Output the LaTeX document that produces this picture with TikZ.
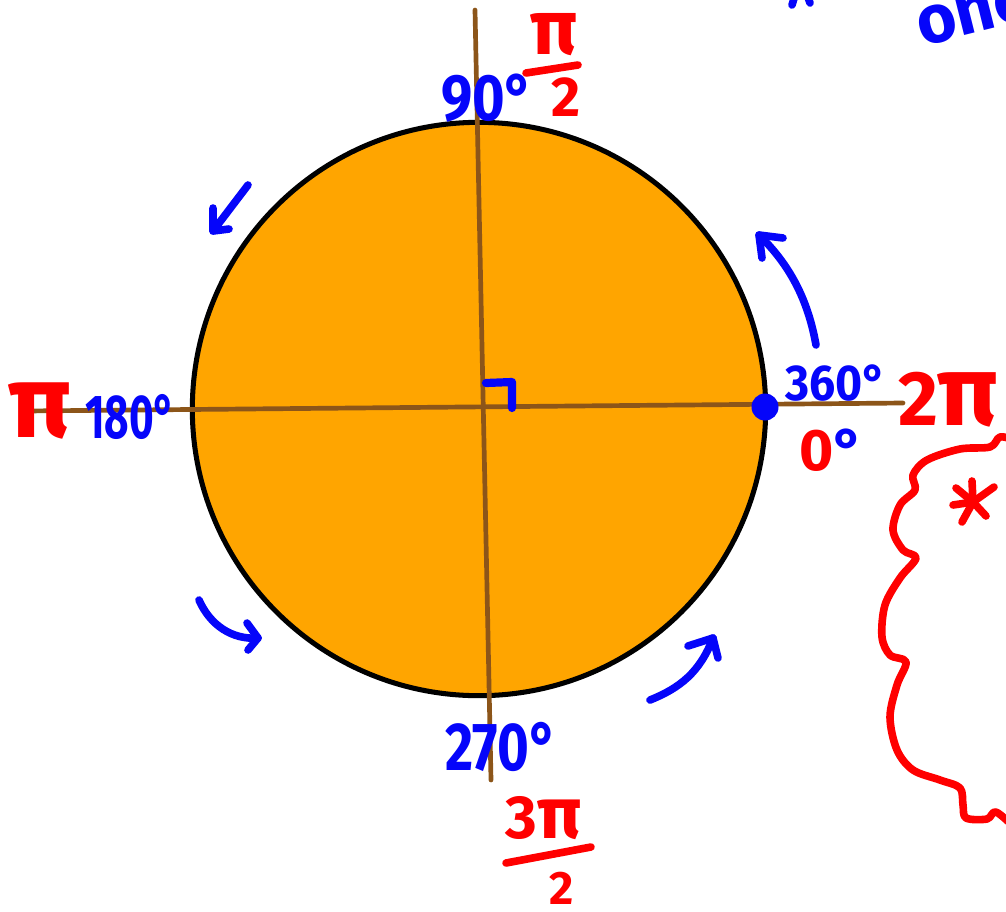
\documentclass[tikz,border=0pt]{standalone}
\usepackage{fontspec}
\usepackage{graphicx}
\setmainfont{Fira Sans}
\definecolor{disc}{RGB}{255,165,0}
\definecolor{axisbrown}{RGB}{140,85,25}
\definecolor{penblue}{RGB}{5,5,250}
\definecolor{penred}{RGB}{255,0,0}
\newcommand\myfs[1]{\fontsize{#1}{#1}\selectfont\bfseries}
\begin{document}
\begin{tikzpicture}[x=0.03cm,y=-0.03cm,line cap=round,line join=round,
  pen/.style={draw=penblue,line width=6.5pt},
  redpen/.style={draw=penred,line width=6.5pt},
  axis/.style={draw=axisbrown,line width=4pt},
  bluelbl/.style={inner sep=0pt,outer sep=0pt,text=penblue},
  redlbl/.style={inner sep=0pt,outer sep=0pt,text=penred}]
\useasboundingbox (0,0) rectangle (1006,911);
\clip (0,0) rectangle (1006,911);
\fill[white] (0,0) rectangle (1006,911);
% disc
\node[circle,fill=disc,draw=black,line width=4.3pt,minimum size=17.2cm,inner sep=0pt] (disk) at (479,409) {};
% axes
\coordinate (vt) at (475,10);
\coordinate (vb) at (491,780);
\coordinate (hl) at (25,411);
\coordinate (hr) at (903,403);
\draw[axis] (vt) -- (vb);
\draw[axis] (hl) -- (hr);
% right angle mark
\coordinate (ra1) at (486,383);
\coordinate (ra2) at (512,382);
\coordinate (ra3) at (512,408);
\draw[pen,line width=7pt] (ra1) -- (ra2) -- (ra3);
% point at 0/360
\node[circle,fill=penblue,minimum size=0.81cm,inner sep=0pt] (pt0) at (765,407) {};
% degree labels
\node[bluelbl,anchor=base west] (d90) at (441,120) {\myfs{56}\scalebox{0.85}[1]{90°}};
\node[bluelbl,anchor=base west] (d180) at (85,438) {\myfs{53}\scalebox{0.68}[1]{180°}};
\node[bluelbl,anchor=base west] (d270) at (445,770) {\myfs{58}\scalebox{0.8}[1]{270°}};
\node[bluelbl,anchor=base west] (d360) at (785,400) {\myfs{43}\scalebox{0.92}[1]{360°}};
\node[inner sep=0pt,anchor=base west] (d0) at (799,470) {\myfs{50}\textcolor{penred}{0}\textcolor{penblue}{°}};
% radian labels
\node[redlbl,anchor=base west] (rpi) at (8,437) {\myfs{88}π};
\node[redlbl,anchor=base west] (r2pi) at (898,425) {\myfs{66}2\fontsize{85}{85}\selectfont π};
\node[redlbl,anchor=base] (rhalfn) at (554,54) {\myfs{66}π};
\coordinate (bar1a) at (526,73);
\coordinate (bar1b) at (578,65);
\draw[redpen] (bar1a) -- (bar1b);
\node[redlbl,anchor=base] (rhalfd) at (566,116) {\myfs{48}2};
\node[redlbl,anchor=base] (r3n) at (544,838) {\myfs{52}3\fontsize{62}{62}\selectfont π};
\coordinate (bar2a) at (506,863);
\coordinate (bar2b) at (591,847);
\draw[redpen] (bar2a) -- (bar2b);
\node[redlbl,anchor=base] (r3d) at (562,904) {\myfs{40}2};
% direction arrows
\coordinate (a1t) at (248,185); \coordinate (a1h) at (213,231);
\coordinate (a1l) at (213,208); \coordinate (a1r) at (229,229);
\draw[pen] (a1t) -- (a1h);
\draw[pen] (a1l) -- (a1h) -- (a1r);
\coordinate (a2t) at (816,345); \coordinate (a2h) at (759,235);
\coordinate (a2l) at (762,258); \coordinate (a2r) at (783,238);
\draw[pen] (a2t) .. controls (808,300) and (790,265) .. (a2h);
\draw[pen] (a2l) -- (a2h) -- (a2r);
\coordinate (a3t) at (199,600); \coordinate (a3h) at (258,638);
\coordinate (a3l) at (247,623); \coordinate (a3r) at (248,650);
\draw[pen] (a3t) .. controls (210,625) and (232,640) .. (a3h);
\draw[pen] (a3l) -- (a3h) -- (a3r);
\coordinate (a4t) at (650,700); \coordinate (a4h) at (713,638);
\coordinate (a4l) at (688,646); \coordinate (a4r) at (718,658);
\draw[pen] (a4t) .. controls (680,688) and (700,672) .. (a4h);
\draw[pen] (a4l) -- (a4h) -- (a4r);
% top right notes (cut off)
\node[bluelbl,anchor=base west,rotate=14] (note) at (922,46) {\myfs{58}onc};
\coordinate (m1a) at (796,-8); \coordinate (m1b) at (792,5);
\coordinate (m2a) at (806,-8); \coordinate (m2b) at (810,3);
\draw[pen] (m1a) -- (m1b);
\draw[pen] (m2a) -- (m2b);
% red cloud
\draw[redpen] plot[smooth,tension=0.55] coordinates {(1015,440) (1000,437) (990,447) (960,449) (927,460) (913,475) (915,490) (900,505) (893,530) (903,550) (916,558) (900,578) (885,605) (882,637) (890,655) (906,662) (897,685) (890,717) (897,750) (913,770) (940,780) (960,788) (963,805) (966,818) (987,819) (996,812) (1015,828)};
\coordinate (st) at (973,502);
\draw[redpen] (st) -- (972,481);
\draw[redpen] (st) -- (994,487);
\draw[redpen] (st) -- (986,516);
\draw[redpen] (st) -- (962,522);
\draw[redpen] (st) -- (953,505);
\draw[redpen] (st) -- (956,488);
\end{tikzpicture}
\end{document}
